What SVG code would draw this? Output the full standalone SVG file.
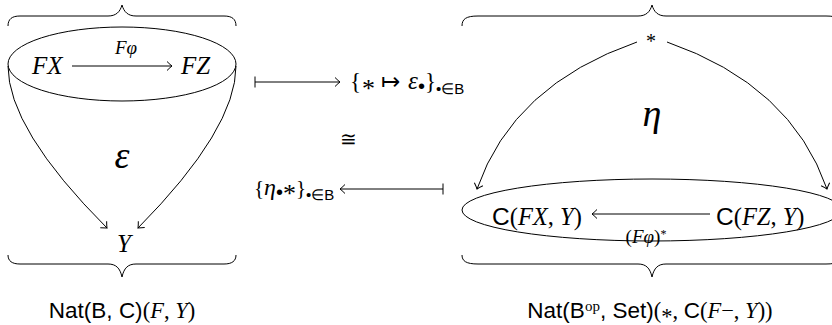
<svg xmlns="http://www.w3.org/2000/svg" width="832" height="325" viewBox="0 0 832 325">
<style>
.ln{fill:none;stroke:#000;stroke-width:1}
.s{font-family:"Liberation Sans",Arial,sans-serif;font-style:normal}
.m{font-family:"Liberation Serif","Times New Roman",serif;font-style:italic}
.r{font-family:"Liberation Serif","Times New Roman",serif;font-style:normal}
.b{font-family:"Liberation Sans",Arial,sans-serif;font-size:20px}
.st{font-family:"Liberation Serif","Times New Roman",serif;font-size:26px}
.sub{font-family:"Liberation Sans",Arial,sans-serif;font-size:15px}
text{fill:#000}
</style>
<defs>
<marker id="to" viewBox="-7 -6 9 12" refX="0" refY="0" markerWidth="9" markerHeight="12" markerUnits="userSpaceOnUse" orient="auto">
<path d="M-5,-4.5 Q-1.5,-1 0,0 Q-1.5,1 -5,4.5" fill="none" stroke="#000" stroke-width="1"/>
</marker>
<marker id="bar" viewBox="-2 -7 4 14" refX="0" refY="0" markerWidth="4" markerHeight="14" markerUnits="userSpaceOnUse" orient="auto">
<path d="M0,-5.5 L0,5.5" fill="none" stroke="#000" stroke-width="1"/>
</marker>
</defs>

<g id="braces">
<path class="ln" d="M8,26 C8,19 12,16 20,16 L108,16 C116,16 120,12 122,5 C124,12 128,16 136,16 L224,16 C232,16 236,19 236,26"/>
<path class="ln" d="M8,255 C8,261 12,264 20,264 L108,264 C116,264 120,268 122,277 C124,268 128,264 136,264 L224,264 C232,264 236,261 236,255"/>
<path class="ln" d="M462,26 C462,19 466,16 478,16 L638,16 C646,16 650,12 652,5 C654,12 658,16 666,16 L826,16 C838,16 842,19 842,26"/>
<path class="ln" d="M462,255 C462,261 466,264 478,264 L638,264 C646,264 650,268 652,277 C654,268 658,264 666,264 L826,264 C838,264 842,261 842,255"/>
</g>

<g id="ellipses">
<ellipse class="ln" cx="122" cy="64" rx="114" ry="37"/>
<ellipse class="ln" cx="652" cy="210" rx="190" ry="31"/>
</g>

<g id="connectors">
<path class="ln" d="M72,66 L172,66" marker-end="url(#to)"/>
<path class="ln" d="M8,66 Q8,129 107,228" marker-end="url(#to)"/>
<path class="ln" d="M236,66 Q236,129 138,228" marker-end="url(#to)"/>
<path class="ln" d="M637,42 Q513,85 477,189" marker-end="url(#to)"/>
<path class="ln" d="M667,42 Q791,85 827,189" marker-end="url(#to)"/>
<path class="ln" d="M710,214 L592,214" marker-end="url(#to)"/>
<path class="ln" d="M255,82 L340,82" marker-start="url(#bar)" marker-end="url(#to)"/>
<path class="ln" d="M443,189 L340,189" marker-start="url(#bar)" marker-end="url(#to)"/>
</g>

<g id="node-FX"><text class="m" x="32" y="74" font-size="25">FX</text></g>
<g id="node-FZ"><text class="m" x="181" y="74" font-size="25">FZ</text></g>
<g id="label-Fphi"><text class="m" x="126" y="54" font-size="19" text-anchor="middle">Fφ</text></g>
<g id="label-epsilon"><text class="m" x="122" y="168" font-size="38" text-anchor="middle">ε</text></g>
<g id="node-Y"><text class="m" x="124" y="252" font-size="25" text-anchor="middle">Y</text></g>
<g id="label-left"><text x="122" y="318" font-size="22.5" text-anchor="middle"><tspan class="s">Nat(B, C)</tspan><tspan class="r">(</tspan><tspan class="m">F</tspan><tspan class="r">, </tspan><tspan class="m">Y</tspan><tspan class="r">)</tspan></text></g>

<g id="label-top"><text x="350" y="89" font-size="23"><tspan class="r">{</tspan><tspan class="st" baseline-shift="-8" dx="1">*</tspan><tspan class="r" dx="6">↦</tspan><tspan class="m" font-size="25" dx="8">ε</tspan><tspan class="b" baseline-shift="-4">•</tspan><tspan class="r">}</tspan><tspan class="sub" baseline-shift="-5">•∈B</tspan></text></g>
<g id="label-iso"><text class="r" x="348" y="146" font-size="20" text-anchor="middle">≅</text></g>
<g id="label-bottom"><text x="254" y="195" font-size="21"><tspan class="r">{</tspan><tspan class="m" font-size="24">η</tspan><tspan class="b" font-size="17" baseline-shift="-4">•</tspan><tspan class="st" font-size="23" baseline-shift="-7">*</tspan><tspan class="r">}</tspan><tspan class="sub" font-size="13" baseline-shift="-5">•∈B</tspan></text></g>

<g id="node-star"><text class="r" x="651" y="48" font-size="20" text-anchor="middle">*</text></g>
<g id="label-eta"><text class="m" x="652" y="126" font-size="38" text-anchor="middle">η</text></g>
<g id="node-CFX"><text x="492" y="225" font-size="24.5"><tspan class="s">C</tspan><tspan class="r">(</tspan><tspan class="m">FX</tspan><tspan class="r">, </tspan><tspan class="m">Y</tspan><tspan class="r">)</tspan></text></g>
<g id="node-CFZ"><text x="716" y="225" font-size="24.5"><tspan class="s">C</tspan><tspan class="r">(</tspan><tspan class="m">FZ</tspan><tspan class="r">, </tspan><tspan class="m">Y</tspan><tspan class="r">)</tspan></text></g>
<g id="label-Fphistar"><text x="646" y="243" font-size="19" text-anchor="middle"><tspan class="r">(</tspan><tspan class="m">Fφ</tspan><tspan class="r">)</tspan><tspan class="r" font-size="12" baseline-shift="5">*</tspan></text></g>
<g id="label-right"><text x="650" y="318" font-size="22.5" text-anchor="middle"><tspan class="s">Nat(B</tspan><tspan class="r" font-size="15" baseline-shift="7">op</tspan><tspan class="s">, Set)</tspan><tspan class="r">(</tspan><tspan class="r" baseline-shift="-6">*</tspan><tspan class="r">, </tspan><tspan class="s">C</tspan><tspan class="r">(</tspan><tspan class="m">F</tspan><tspan class="r">−, </tspan><tspan class="m">Y</tspan><tspan class="r">))</tspan></text></g>
</svg>
